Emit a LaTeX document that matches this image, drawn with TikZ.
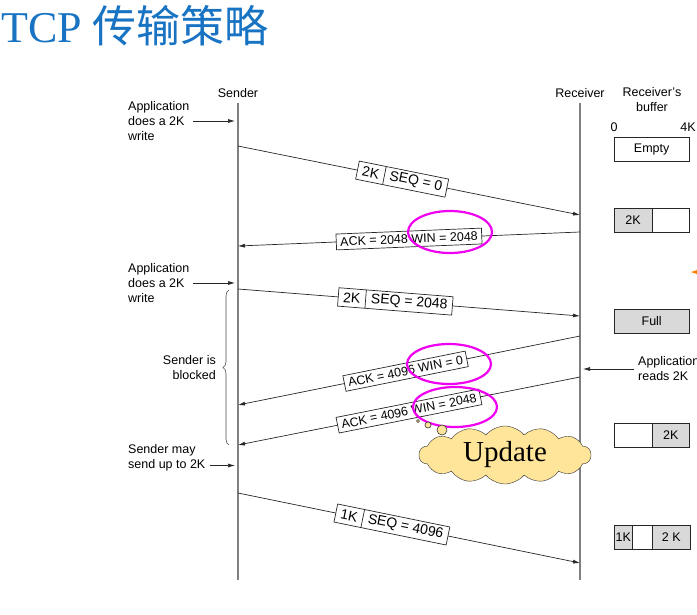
\documentclass[tikz,border=0pt]{standalone}
\usepackage{fontspec}
\setmainfont{Liberation Sans}
\newfontfamily\serifface{Liberation Serif}
\newfontfamily\cjk{Noto Sans CJK SC}
\usetikzlibrary{arrows.meta,shapes.multipart,shapes.symbols,decorations.pathreplacing}
\definecolor{titleblue}{RGB}{24,116,195}
\definecolor{bufgray}{RGB}{217,217,217}
\definecolor{cloudyellow}{RGB}{255,229,153}
\definecolor{hilitemag}{RGB}{240,0,240}
\newcommand{\smallfont}{\fontsize{12.5}{15}\selectfont}
\tikzset{
  lbl/.style={font=\smallfont, inner sep=0pt, align=left},
  timeline/.style={draw=gray, line width=1.1pt},
  msg/.style={draw=black!85, line width=0.7pt, -{Latex[length=7pt,width=4pt]}},
  note/.style={draw=black!85, line width=0.7pt, -{Latex[length=7pt,width=4pt]}, shorten >=3pt},
  segbox/.style={rectangle split, rectangle split horizontal, rectangle split parts=2,
    draw=black!85, fill=white, font=\fontsize{14}{16}\selectfont, inner xsep=5pt, inner ysep=3pt, sloped},
  ackbox/.style={draw=black!85, fill=white, font=\smallfont, inner xsep=4pt, inner ysep=3.5pt, sloped},
  buf/.style={draw=black!85, minimum height=24pt, font=\smallfont, inner sep=0pt, anchor=west},
  hilite/.style={draw=hilitemag, line width=2.2pt},
  bubble/.style={draw=black!80, fill=cloudyellow, line width=0.6pt}
}
\begin{document}
\begin{tikzpicture}[x=1pt,y=-1pt]
  \useasboundingbox (0,0) rectangle (697,614);
  % タイトル
  \node[anchor=base west, inner sep=0pt, text=titleblue] (title) at (1,42)
    {\fontsize{44}{44}\selectfont\serifface TCP \cjk 传输策略};

  % 時間軸
  \coordinate (sndT) at (238,103); \coordinate (sndB) at (238,580);
  \coordinate (rcvT) at (580,103); \coordinate (rcvB) at (580,580);
  \draw[timeline] (sndT) -- (sndB);
  \draw[timeline] (rcvT) -- (rcvB);
  \node[lbl] (sender) at (238,93) {Sender};
  \node[lbl] (receiver) at (580,93) {Receiver};
  \node[lbl, align=center] (bufhead) at (652,100) {Receiver's\\buffer};
  \node[lbl] (zero) at (614,127) {0};
  \node[lbl] (four) at (688,127) {4K};

  % 送信側の説明
  \node[lbl, anchor=west] (app1) at (128,121) {Application\\does a 2K\\write};
  \draw[note] ([xshift=3pt]app1.east) -- (app1.east -| sndT);
  \node[lbl, anchor=west] (app2) at (128,283) {Application\\does a 2K\\write};
  \draw[note] ([xshift=3pt]app2.east) -- (app2.east -| sndT);
  \node[lbl, anchor=west] (app3) at (128,458) {Sender may\\send up to 2K};
  \draw[note] ([xshift=4pt,yshift=-7.5pt]app3.east) -- ([yshift=-7.5pt]app3.east -| sndT);
  \node[lbl, align=right, anchor=east] (blocked) at (216,368) {Sender is\\blocked};
  \draw[decorate, decoration={brace, amplitude=6pt}, draw=black!70, line width=0.6pt]
    (229,445) -- (229,290);

  % 受信側の説明
  \node[lbl, anchor=west] (read) at (638,369) {Application\\reads 2K};
  \draw[note] ([xshift=-4pt]read.west) -- (read.west -| rcvT);

  % セグメント
  \coordinate (s1) at (238,146); \coordinate (r1) at (580,215);
  \coordinate (r2) at (580,232); \coordinate (s2) at (238,246);
  \coordinate (s3) at (238,289); \coordinate (r3) at (580,316);
  \coordinate (r4) at (580,336); \coordinate (s4) at (238,405);
  \coordinate (r5) at (580,377); \coordinate (s5) at (238,445);
  \coordinate (s6) at (238,493); \coordinate (r6) at (580,563);
  \draw[msg] (s1) -- node[segbox, pos=.48] (seg1) {2K\nodepart{two}SEQ = 0} (r1);
  \draw[msg] (r2) -- node[ackbox, pos=.5] (ack1) {ACK = 2048 WIN = 2048} (s2);
  \draw[msg] (s3) -- node[segbox, pos=.46] (seg2) {2K\nodepart{two}SEQ = 2048} (r3);
  \draw[msg] (r4) -- node[ackbox, pos=.51] (ack2) {ACK = 4096 WIN = 0} (s4);
  \draw[msg] (r5) -- node[ackbox, pos=.5] (ack3) {ACK = 4096 WIN = 2048} (s5);
  \draw[msg] (s6) -- node[segbox, pos=.45] (seg3) {1K\nodepart{two}SEQ = 4096} (r6);

  % 受信バッファ
  \node[buf, minimum width=75pt] (buf1) at (614,149) {Empty};
  \node[buf, fill=bufgray, minimum width=37.5pt] (buf2a) at (614,220) {2K};
  \node[buf, minimum width=37.5pt] (buf2b) at (buf2a.east) {};
  \node[buf, fill=bufgray, minimum width=75pt] (buf3) at (614,321) {Full};
  \node[buf, minimum width=37.5pt] (buf4a) at (614,435) {};
  \node[buf, fill=bufgray, minimum width=37.5pt] (buf4b) at (buf4a.east) {2K};
  \node[buf, fill=bufgray, minimum width=18pt] (buf5a) at (614,537) {1K};
  \node[buf, minimum width=19.5pt] (buf5b) at (buf5a.east) {};
  \node[buf, fill=bufgray, minimum width=37.5pt] (buf5c) at (buf5b.east) {2 K};

  % 強調
  \draw[hilite] (450,232) ellipse [x radius=42pt, y radius=21pt];
  \draw[hilite] (449,364) ellipse [x radius=42pt, y radius=20pt];
  \draw[hilite] (455,407) ellipse [x radius=42pt, y radius=20pt];

  % 吹き出し
  \draw[bubble] (418,421) circle (1.5pt);
  \draw[bubble] (428,425) circle (3pt);
  \draw[bubble] (442,430) circle (5pt);
  \node[cloud, cloud puffs=14, cloud puff arc=100, aspect=3, draw=black!80, fill=cloudyellow,
    minimum width=172pt, minimum height=58pt, inner sep=0pt,
    font=\serifface\fontsize{29}{29}\selectfont] (update) at (505,455) {Update};
  \fill[orange] (691,272) -- (697,270) -- (697,274) -- cycle;
\end{tikzpicture}
\end{document}
